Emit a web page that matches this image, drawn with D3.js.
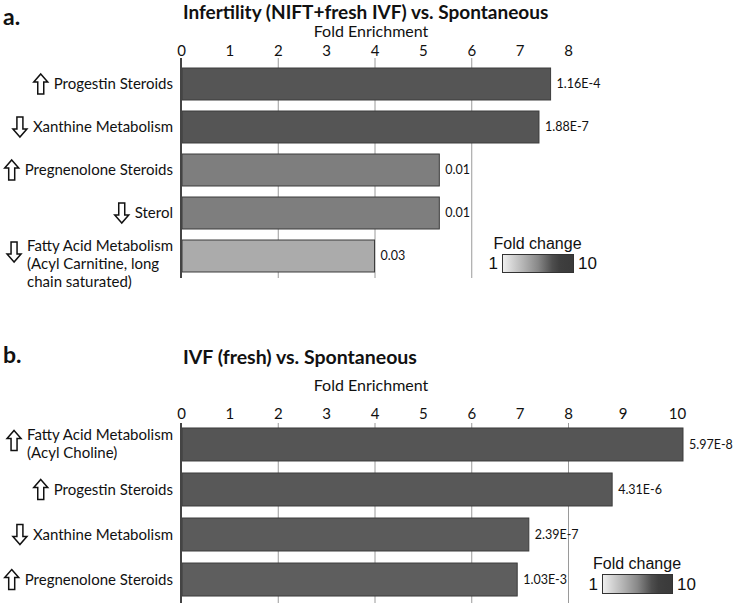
<!DOCTYPE html>
<html>
<head>
<meta charset="utf-8">
<script src="https://cdn.jsdelivr.net/npm/d3@7"></script>
<style>
  html, body { margin: 0; padding: 0; background: #fff; }
  svg { display: block; }
</style>
</head>
<body>
<svg id="chart" width="733" height="603"></svg>
<script>
// ---------------- DATA ----------------
// Panel a
const titleA = "Infertility (NIFT+fresh IVF) vs. Spontaneous";
const categoriesA = [
  ["Progestin Steroids"],
  ["Xanthine Metabolism"],
  ["Pregnenolone Steroids"],
  ["Sterol"],
  ["Fatty Acid Metabolism", "(Acyl Carnitine, long", "chain saturated)"]
];
const directionsA = ["up", "down", "up", "down", "down"];
const enrichmentA = [7.64, 7.40, 5.34, 5.34, 4.0];
const foldChangeA = [7.1, 7.1, 5.8, 5.8, 4.0];
const pValuesA = ["1.16E-4", "1.88E-7", "0.01", "0.01", "0.03"];
const ticksA = [0, 1, 2, 3, 4, 5, 6, 7, 8];
const gridA = [2, 4, 6];

// Panel b
const titleB = "IVF (fresh) vs. Spontaneous";
const categoriesB = [
  ["Fatty Acid Metabolism", "(Acyl Choline)"],
  ["Progestin Steroids"],
  ["Xanthine Metabolism"],
  ["Pregnenolone Steroids"]
];
const directionsB = ["up", "up", "down", "up"];
const enrichmentB = [10.11, 8.81, 7.19, 6.95];
const foldChangeB = [7.1, 7.0, 6.9, 6.8];
const pValuesB = ["5.97E-8", "4.31E-6", "2.39E-7", "1.03E-3"];
const ticksB = [0, 1, 2, 3, 4, 5, 6, 7, 8, 9, 10];
const gridB = [2, 4, 6, 8];

const axisLabel = "Fold Enrichment";
const legendTitle = "Fold change";
const legendDomain = [1, 10];

// ---------------- DRAWING ----------------
const svg = d3.select("#chart");
const FONT = "Lato, 'Open Sans', sans-serif";
const LFONT = "'Liberation Sans', Arial, sans-serif";

const color = d3.scaleLinear()
  .domain([1, 5.5, 7.75, 10])
  .range(["#f0f0f0", "#888888", "#404040", "#3a3a3a"]);

const upArrow = "M0,-10 L7,-2 L3,-2 L3,10 L-3,10 L-3,-2 L-7,-2 Z";

// gradient def
const defs = svg.append("defs");
const grad = defs.append("linearGradient").attr("id", "fcGrad")
  .attr("x1", "0%").attr("x2", "100%").attr("y1", "0%").attr("y2", "0%");
d3.range(0, 1.0001, 0.1).forEach(t => {
  grad.append("stop")
    .attr("offset", (t * 100) + "%")
    .attr("stop-color", color(legendDomain[0] + t * (legendDomain[1] - legendDomain[0])));
});

function drawPanel(cfg) {
  const g = svg.append("g");
  const x = d3.scaleLinear().domain(cfg.xDomain).range(cfg.xRange);
  const y = d3.scaleBand().domain(d3.range(cfg.categories.length))
    .range(cfg.yRange).paddingInner(cfg.padIn).paddingOuter(cfg.padOut);

  // panel letter
  g.append("text").attr("x", 3).attr("y", cfg.letterY)
    .attr("font-family", FONT).attr("font-weight", "bold").attr("font-size", 23)
    .attr("fill", "#111").text(cfg.letter);

  // title
  g.append("text").attr("x", 183).attr("y", cfg.titleY)
    .attr("font-family", FONT).attr("font-weight", "bold").attr("font-size", cfg.titleSize)
    .attr("fill", "#111").text(cfg.title);

  // axis label
  g.append("text").attr("x", 371).attr("y", cfg.axisLabelY)
    .attr("text-anchor", "middle")
    .attr("font-family", FONT).attr("font-size", 16)
    .attr("fill", "#111").text(axisLabel);

  // grid lines
  g.append("g").selectAll("line").data(cfg.grid).join("line")
    .attr("x1", d => x(d) + 0.5).attr("x2", d => x(d) + 0.5)
    .attr("y1", cfg.gridTop).attr("y2", cfg.gridBottom)
    .attr("stroke", "#9a9a9a").attr("stroke-width", 1);

  // top axis
  const ax = g.append("g").attr("transform", `translate(0,${cfg.axisY})`)
    .call(d3.axisTop(x).tickValues(cfg.ticks).tickSize(0).tickPadding(3).tickFormat(d3.format("d")));
  ax.select(".domain").remove();
  ax.selectAll("text").attr("font-family", FONT).attr("font-size", 15).attr("fill", "#111");

  // bars
  g.append("g").selectAll("rect").data(cfg.values).join("rect")
    .attr("x", x(0) + 1)
    .attr("y", (d, i) => y(i))
    .attr("width", d => x(d) - x(0) - 1)
    .attr("height", y.bandwidth())
    .attr("fill", (d, i) => color(cfg.fold[i]))
    .attr("stroke", "#3c3c3c").attr("stroke-width", 1);

  // vertical axis line
  g.append("line").attr("x1", x(0)).attr("x2", x(0))
    .attr("y1", cfg.gridTop).attr("y2", cfg.gridBottom)
    .attr("stroke", "#444").attr("stroke-width", 2);

  // value labels
  g.append("g").selectAll("text").data(cfg.values).join("text")
    .attr("x", d => x(d) + 6)
    .attr("y", (d, i) => y(i) + y.bandwidth() / 2)
    .attr("dy", "0.35em")
    .attr("font-family", FONT).attr("font-size", 12.5).attr("fill", "#111")
    .text((d, i) => cfg.pvals[i]);

  // category labels with arrows
  const rightEdge = 173;
  cfg.categories.forEach((lines, i) => {
    const cy = y(i) + y.bandwidth() / 2;
    const lg = g.append("g");
    const texts = lines.map((ln, k) => {
      const ly = lines.length === 1 ? cy : cy - 10 + k * 18;
      return lg.append("text").attr("y", ly).attr("dy", "0.35em")
        .attr("font-family", FONT).attr("font-size", 15).attr("fill", "#111").text(ln);
    });
    const widths = texts.map(t => t.node().getComputedTextLength());
    const maxW = d3.max(widths);
    const startX = rightEdge - maxW;
    texts.forEach(t => t.attr("x", startX));
    const arrowY = lines.length === 1 ? cy : cy - 10 + 6;
    const arrowX = startX - 13;
    lg.append("path").attr("d", upArrow)
      .attr("transform", `translate(${arrowX},${arrowY})` + (cfg.dirs[i] === "down" ? " rotate(180)" : ""))
      .attr("fill", "#fff").attr("stroke", "#111").attr("stroke-width", 1.5)
      .attr("stroke-linejoin", "miter");
  });

  // legend
  const L = cfg.legend;
  g.append("text").attr("x", L.x + L.w / 2).attr("y", L.y - 5)
    .attr("text-anchor", "middle").attr("font-family", LFONT).attr("font-size", 16)
    .attr("fill", "#111").text(legendTitle);
  g.append("rect").attr("x", L.x + 0.5).attr("y", L.y + 0.5).attr("width", L.w).attr("height", L.h)
    .attr("fill", "url(#fcGrad)").attr("stroke", "#333").attr("stroke-width", 1);
  g.append("text").attr("x", L.x - 4).attr("y", L.y + L.h - 3)
    .attr("text-anchor", "end").attr("font-family", LFONT).attr("font-size", 17)
    .attr("fill", "#111").text(legendDomain[0]);
  g.append("text").attr("x", L.x + L.w + 5).attr("y", L.y + L.h - 3)
    .attr("font-family", LFONT).attr("font-size", 17)
    .attr("fill", "#111").text(legendDomain[1]);
}

drawPanel({
  letter: "a.", letterY: 25, title: titleA, titleY: 18.5, titleSize: 19,
  axisLabelY: 37, axisY: 59,
  xDomain: [0, 8], xRange: [181, 568],
  yRange: [62.5, 277.5], padIn: 0.256, padOut: 0.128,
  gridTop: 58, gridBottom: 278,
  categories: categoriesA, dirs: directionsA, values: enrichmentA, fold: foldChangeA, pvals: pValuesA,
  ticks: ticksA, grid: gridA,
  legend: { x: 502, y: 254, w: 71, h: 18 }
});

drawPanel({
  letter: "b.", letterY: 363, title: titleB, titleY: 364, titleSize: 19.5,
  axisLabelY: 391, axisY: 422,
  xDomain: [0, 8, 10], xRange: [181, 568, 677],
  yRange: [422, 602], padIn: 0.267, padOut: 0.133,
  gridTop: 423, gridBottom: 603,
  categories: categoriesB, dirs: directionsB, values: enrichmentB, fold: foldChangeB, pvals: pValuesB,
  ticks: ticksB, grid: gridB,
  legend: { x: 602, y: 574, w: 70, h: 19 }
});
</script>
</body>
</html>
